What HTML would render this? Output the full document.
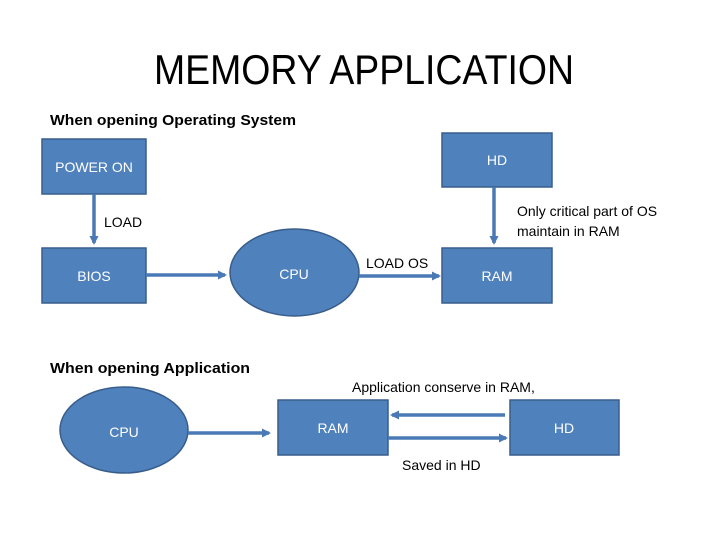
<!DOCTYPE html>
<html><head><meta charset="utf-8"><style>
html,body{margin:0;padding:0;background:#fff}
svg{display:block}
text{font-family:"Liberation Sans",sans-serif}
</style></head><body>
<svg width="728" height="546" viewBox="0 0 728 546" xmlns="http://www.w3.org/2000/svg">
<defs>
<marker id="ah" markerWidth="9" markerHeight="10" refX="7" refY="5" orient="auto" markerUnits="userSpaceOnUse">
<path d="M0,0.5 L9,5 L0,9.5 z" fill="#4a7ab5"/></marker>
</defs>
<rect width="728" height="546" fill="#fff"/>
<text x="364" y="84" font-size="42" text-anchor="middle" textLength="420" lengthAdjust="spacingAndGlyphs" fill="#000">MEMORY APPLICATION</text>
<text x="50" y="125" font-size="15" font-weight="bold" textLength="246" lengthAdjust="spacingAndGlyphs">When opening Operating System</text>
<text x="50" y="373" font-size="15" font-weight="bold" textLength="200" lengthAdjust="spacingAndGlyphs">When opening Application</text>
<g fill="#4f81bd" stroke="#385d8a" stroke-width="1.5">
<rect x="42" y="139" width="104" height="55"/>
<rect x="42" y="248" width="104" height="55"/>
<ellipse cx="294.5" cy="272.5" rx="64.5" ry="43.5"/>
<rect x="442" y="133" width="110" height="54"/>
<rect x="442" y="248" width="110" height="55"/>
<ellipse cx="124" cy="430" rx="64" ry="43"/>
<rect x="278" y="400" width="110" height="55"/>
<rect x="510" y="400" width="109" height="55"/>
</g>
<g stroke="#4a7ab5" stroke-width="3.5" marker-end="url(#ah)">
<line x1="94" y1="194" x2="94" y2="243"/>
<line x1="146" y1="275" x2="225" y2="275"/>
<line x1="359" y1="276" x2="439" y2="276"/>
<line x1="494" y1="187" x2="494" y2="243"/>
<line x1="188" y1="433" x2="269" y2="433"/>
<line x1="505" y1="415" x2="392" y2="415"/>
<line x1="388" y1="438" x2="506" y2="438"/>
</g>
<g font-size="14" fill="#fff" text-anchor="middle">
<text x="94" y="172">POWER ON</text>
<text x="94" y="281">BIOS</text>
<text x="294" y="279">CPU</text>
<text x="497" y="165">HD</text>
<text x="497" y="281">RAM</text>
<text x="124" y="437">CPU</text>
<text x="333" y="433">RAM</text>
<text x="564" y="433">HD</text>
</g>
<g font-size="14" fill="#000">
<text x="104" y="227">LOAD</text>
<text x="366" y="268">LOAD OS</text>
<text x="517" y="216">Only critical part of OS</text>
<text x="517" y="236">maintain in RAM</text>
<text x="352" y="392">Application conserve in RAM,</text>
<text x="402" y="470">Saved in HD</text>
</g>
</svg>
</body></html>
